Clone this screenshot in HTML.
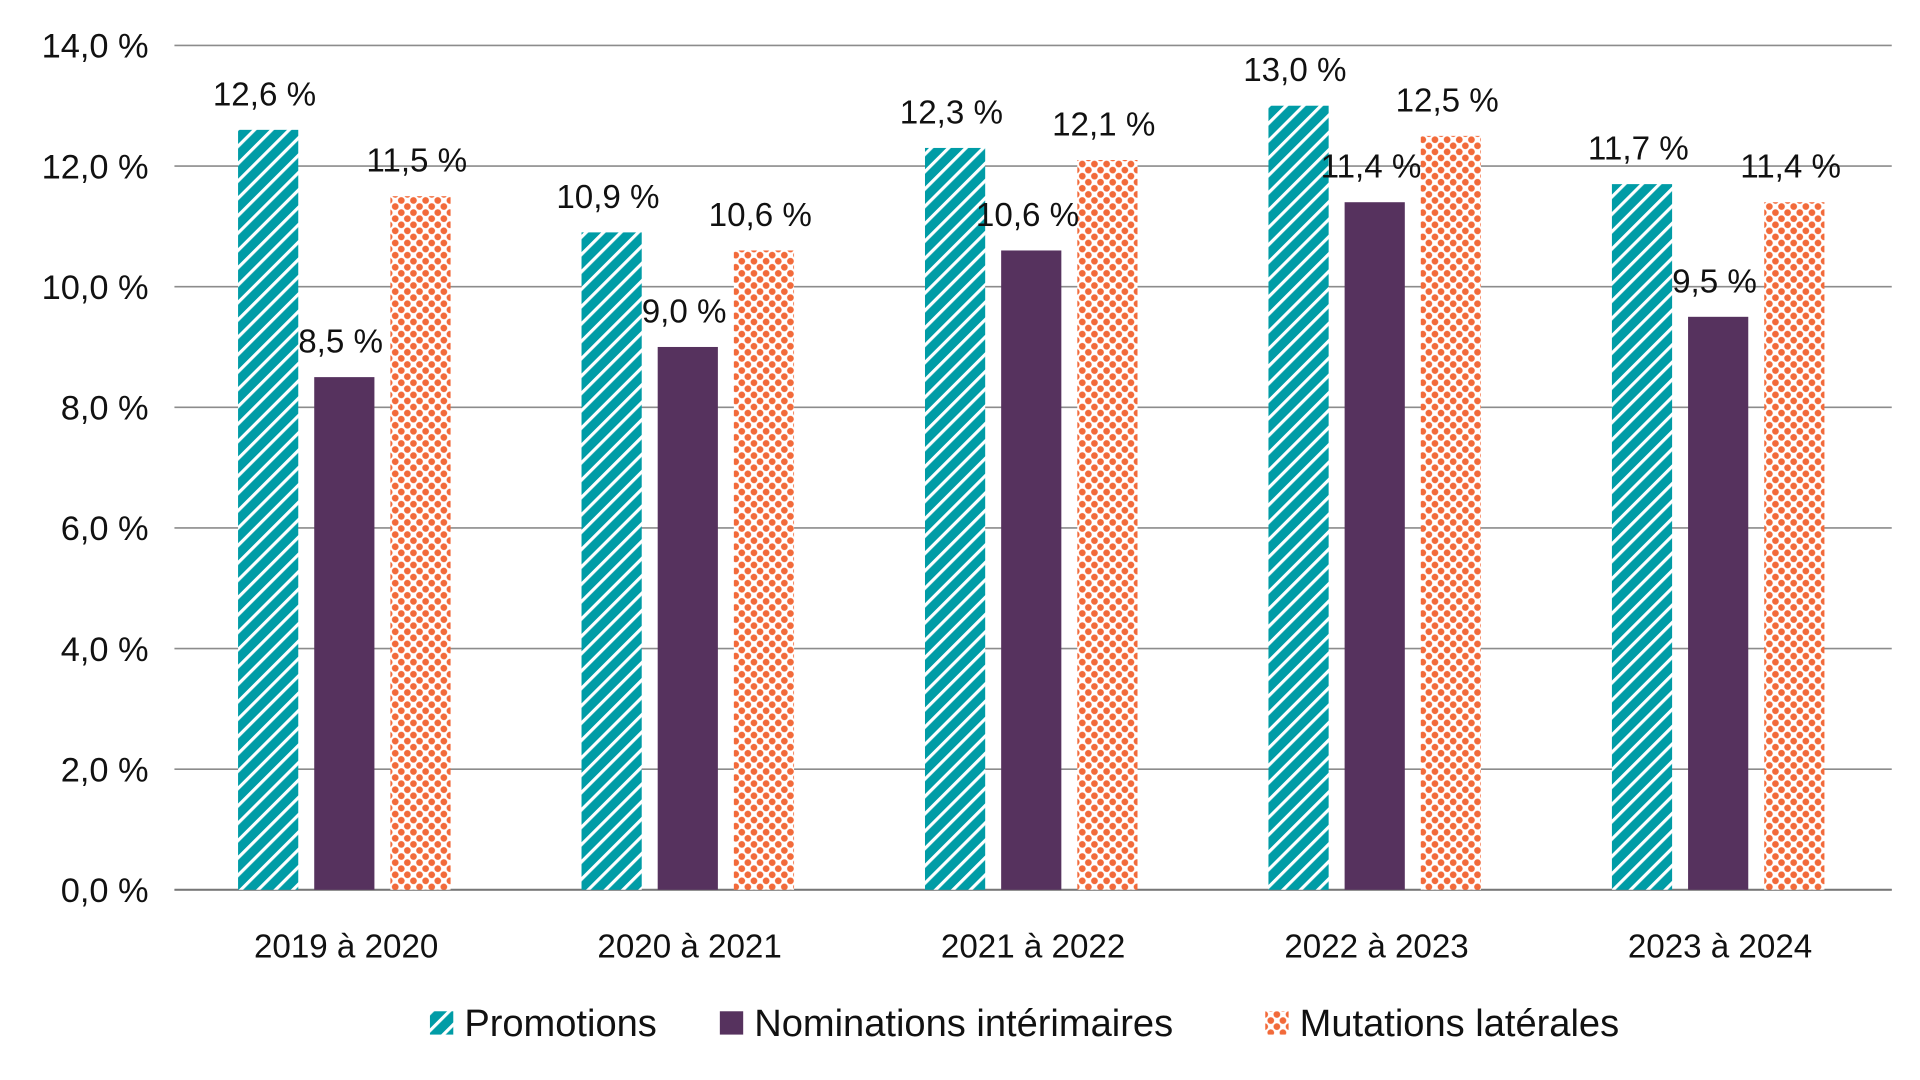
<!DOCTYPE html>
<html><head><meta charset="utf-8"><style>
html,body{margin:0;padding:0;background:#fff;}
svg{display:block;font-family:"Liberation Sans",sans-serif;}
</style></head><body>
<svg id="chart" width="1920" height="1080" viewBox="0 0 1563 880" preserveAspectRatio="none" xmlns="http://www.w3.org/2000/svg">
<defs>
<pattern id="stripes" patternUnits="userSpaceOnUse" width="10" height="10" patternTransform="rotate(45)">
<rect width="10" height="10" fill="#009ca6"/>
<rect x="0" y="0" width="2.6" height="10" fill="#fff"/>
</pattern>
<pattern id="dots2" patternUnits="userSpaceOnUse" width="7" height="7" patternTransform="rotate(45)">
<rect width="7" height="7" fill="#fff"/>
<circle cx="3.5" cy="3.5" r="2.75" fill="#f26a3a"/>
</pattern>
</defs>
<g id="grid"></g>
<g id="bars"></g>
<g id="labels"></g>
<g id="legend"></g>
</svg>
<script>
const categories = ["2019 à 2020","2020 à 2021","2021 à 2022","2022 à 2023","2023 à 2024"];
const promotions = [12.6,10.9,12.3,13.0,11.7];
const nominations = [8.5,9.0,10.6,11.4,9.5];
const mutations = [11.5,10.6,12.1,12.5,11.4];
const seriesNames = ["Promotions","Nominations intérimaires","Mutations latérales"];
const yTicks = [0,2,4,6,8,10,12,14];

const NS="http://www.w3.org/2000/svg";
const X0=142,X1=1540,Y0=725,YTOP=37,YMAX=14;
const fills=["url(#stripes)","#56325e","url(#dots2)"];
const series=[promotions,nominations,mutations];
const offsets=[-88,-26,36], BW=49;
function y(v){return Y0-(v/YMAX)*(Y0-YTOP);}
function xc(i){return X0+(X1-X0)/categories.length*(i+0.5);}
function fmt(v){return v.toFixed(1).replace('.',',')+' %';}
function mk(tag,attrs,parent){const e=document.createElementNS(NS,tag);for(const k in attrs)e.setAttribute(k,attrs[k]);parent.appendChild(e);return e;}
const grid=document.getElementById('grid'),bars=document.getElementById('bars'),labels=document.getElementById('labels'),legend=document.getElementById('legend');
yTicks.forEach(t=>{
  const l=mk('line',{x1:X0,x2:X1,y1:y(t),y2:y(t),stroke:'#8c8c8c','stroke-width':1.3},grid);
  
  
  const tx=mk('text',{x:121,y:y(t)+10,'text-anchor':'end','font-size':28,fill:'#111'},grid);
  tx.textContent=fmt(t);
  
  
});
categories.forEach((c,i)=>{
  series.forEach((s,j)=>{
    const x=xc(i)+offsets[j];
    const r=mk('rect',{x:x,y:y(s[i]),width:BW,height:Y0-y(s[i]),fill:fills[j]},bars);
    
    
    const t=mk('text',{x:x+BW/2-3,y:y(s[i])-20,'text-anchor':'middle','font-size':27,fill:'#111'},labels);
    t.textContent=fmt(s[i]);
    
    
  });
  const t=mk('text',{x:xc(i),y:780,'text-anchor':'middle','font-size':27,fill:'#111'},labels);
  t.textContent=c;
  
  
});
const base=mk('line',{x1:X0,x2:X1,y1:Y0,y2:Y0,stroke:'#777','stroke-width':1.6},grid);


const legX=[350,586,1030];
seriesNames.forEach((n,j)=>{
  const r=mk('rect',{x:legX[j],y:824,width:19,height:19,fill:fills[j]},legend);
  
  
  const t=mk('text',{x:legX[j]+28,y:844,'font-size':31,fill:'#111'},legend);
  t.textContent=n;
  
  
});
</script>
</body></html>
